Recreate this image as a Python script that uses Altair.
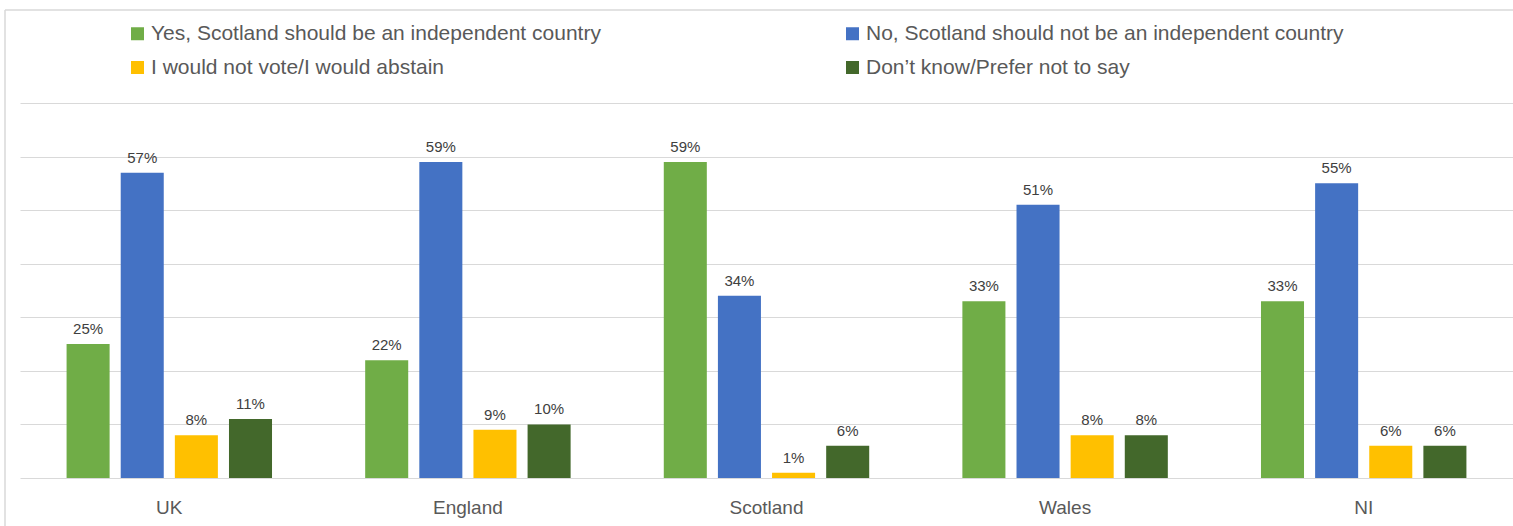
import altair as alt
import pandas as pd

regions = ["UK", "England", "Scotland", "Wales", "NI"]
series = [
    "Yes, Scotland should be an independent country",
    "No, Scotland should not be an independent country",
    "I would not vote/I would abstain",
    "Don\u2019t know/Prefer not to say",
]
yes_vals = [25, 22, 59, 33, 33]
no_vals = [57, 59, 34, 51, 55]
abstain_vals = [8, 9, 1, 8, 6]
dont_know_vals = [11, 10, 6, 8, 6]
colors = ["#70AD47", "#4472C4", "#FFC000", "#43682B"]

# legend is filled column by column, so list entries in that order
legend_order = [series[0], series[2], series[1], series[3]]
legend_colors = [colors[0], colors[2], colors[1], colors[3]]

rows = []
for s, vals in zip(series, [yes_vals, no_vals, abstain_vals, dont_know_vals]):
    for r, v in zip(regions, vals):
        rows.append({"region": r, "series": s, "value": v, "label": f"{v}%"})
df = pd.DataFrame(rows)

FONT = "Liberation Sans"

x_enc = alt.X(
    "region:N",
    sort=regions,
    scale=alt.Scale(paddingInner=0.312, paddingOuter=0.156),
    axis=alt.Axis(title=None, labelAngle=0, labelFontSize=19, labelColor="#595959",
                  labelFont=FONT, labelPadding=20, ticks=False, domain=False),
)
xo_enc = alt.XOffset("series:N", sort=series,
                     scale=alt.Scale(paddingInner=0.205, paddingOuter=0))
y_enc = alt.Y(
    "value:Q",
    scale=alt.Scale(domain=[0, 70], nice=False),
    axis=alt.Axis(title=None, labels=False, ticks=False, domain=False,
                  values=[0, 10, 20, 30, 40, 50, 60, 70],
                  gridColor="#d9d9d9", gridWidth=1),
)

base = alt.Chart(df).encode(x=x_enc, xOffset=xo_enc, y=y_enc)

bars = base.mark_bar().encode(
    color=alt.Color(
        "series:N",
        scale=alt.Scale(domain=legend_order, range=legend_colors),
        legend=alt.Legend(
            title=None, orient="none", legendX=107, legendY=-80, columns=2,
            columnPadding=241, rowPadding=12, symbolType="square",
            symbolSize=169, symbolStrokeWidth=0, labelFontSize=21,
            labelFont=FONT, labelColor="#595959", labelOffset=3, padding=0,
            labelLimit=700,
        ),
    )
)

texts = base.mark_text(baseline="bottom", dy=-7, fontSize=15, font=FONT,
                       color="#404040").encode(text="label:N")

border_df = pd.DataFrame({"k": [0]})
vborder = alt.Chart(border_df).mark_rule(color="#d9d9d9", strokeWidth=1.5).encode(
    x=alt.value(-15), y=alt.value(-93), y2=alt.value(430))
hborder = alt.Chart(border_df).mark_rule(color="#d9d9d9", strokeWidth=1.5).encode(
    x=alt.value(-15), x2=alt.value(1500), y=alt.value(-93))

chart = alt.layer(bars, texts, vborder, hborder).properties(
    width=1493, height=375,
    padding={"left": 20, "top": 103, "right": 0, "bottom": 48},
    autosize=alt.AutoSizeParams(type="none"),
    background="white",
).configure_view(stroke=None)

chart.save("out.html", embed_options={"renderer": "svg", "actions": False})
